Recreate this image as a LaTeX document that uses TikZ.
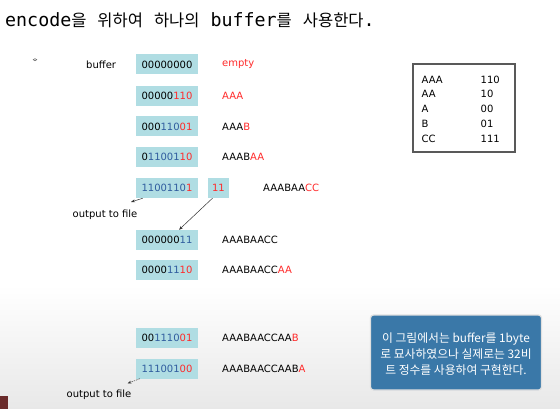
\documentclass[tikz,border=0pt]{standalone}
\usepackage{fontspec}
\setmainfont{DejaVu Sans}
\newfontfamily\krfont{Noto Sans CJK KR}
\newfontfamily\monofont{DejaVu Sans Mono}
\usetikzlibrary{arrows.meta}
\definecolor{boxc}{HTML}{B0DDE3}
\definecolor{bitblue}{HTML}{2F5C9E}
\definecolor{bitred}{HTML}{FF2A2A}
\definecolor{notec}{HTML}{3A78A8}
\definecolor{cornerbrown}{HTML}{6A2B2B}
\newcommand\hg[1]{{\fontsize{16.5}{18}\selectfont\krfont #1}}
\newcommand\bb[1]{\textcolor{bitblue}{#1}}
\newcommand\br[1]{\textcolor{bitred}{#1}}
\begin{document}
\begin{tikzpicture}[x=1pt,y=-1pt,
  bitbox/.style={fill=boxc,minimum width=62pt,minimum height=20pt,inner sep=0pt,font=\fontsize{10}{12}\selectfont},
  lbl/.style={anchor=west,inner sep=0pt,font=\fontsize{10}{12}\selectfont},
  tbl/.style={anchor=base west,inner sep=0pt,font=\fontsize{10}{12}\selectfont},
  arr/.style={draw=black!80,line width=0.5pt,-{Stealth[length=4pt,width=3pt]}}]
\useasboundingbox (0,0) rectangle (560,409);
\fill[white] (0,0) rectangle (560,409);
\shade[top color=white,bottom color=black!9] (0,285) rectangle (560,409);
\fill[cornerbrown] (0,396) rectangle (8,409);
% title
\node[anchor=base west,inner sep=0pt] (title) at (5,27) {\fontsize{18.3}{20}\selectfont\monofont encode\hg{을} \hg{위하여} \hg{하나의} buffer\hg{를} \hg{사용한다}.};
% small mark
\draw[black!60,line width=0.5pt] (35,59.7) ellipse (1.8 and 1.1);
\node[lbl] (buflbl) at (86,65) {buffer};
% boxes
\node[bitbox] (b1) at (167,64.5) {00000000};
\node[bitbox] (b2) at (167,96) {00000\br{110}};
\node[bitbox] (b3) at (167,126.5) {000\bb{110}\br{01}};
\node[bitbox] (b4) at (167,157) {0\bb{11001}\br{10}};
\node[bitbox] (b5) at (167,188) {\bb{1100110}\br{1}};
\node[bitbox,minimum width=21pt] (b5b) at (218.5,188) {\br{11}};
\node[bitbox] (b6) at (167,240) {000000\bb{11}};
\node[bitbox] (b7) at (167,270) {0000\bb{11}\br{10}};
\node[bitbox] (b8) at (167,338) {00\bb{1110}\br{01}};
\node[bitbox] (b9) at (167,368.5) {\bb{111001}\br{00}};
% labels
\node[lbl,text=bitred] (l1) at (222,64.5) {empty};
\node[lbl,text=bitred] (l2) at (222,96) {AAA};
\node[lbl] (l3) at (222,126.5) {AAA\br{B}};
\node[lbl] (l4) at (222,157) {AAAB\br{AA}};
\node[lbl] (l5) at (263,188) {AAABAA\br{CC}};
\node[lbl] (l6) at (222,240) {AAABAACC};
\node[lbl] (l7) at (222,270) {AAABAACC\br{AA}};
\node[lbl] (l8) at (222,338) {AAABAACCAA\br{B}};
\node[lbl] (l9) at (222,368.5) {AAABAACCAAB\br{A}};
% output to file
\node[lbl] (out1) at (72.5,214.5) {output to file};
\node[lbl] (out2) at (66.5,395) {output to file};
\coordinate (o1) at (131,202);
\coordinate (o2) at (127.5,383.5);
\draw[arr] ([xshift=7pt]b5.south west) -- (o1);
\draw[arr] ([xshift=-6pt]b5b.south) -- ([xshift=12pt]b6.north);
\draw[arr,dash pattern=on 1.5pt off 1pt] ([xshift=4pt]b9.south west) -- (o2);
% code table
\node[draw=black!65,line width=1.4pt,fill=white,minimum width=102pt,minimum height=88pt,inner sep=0pt] (codetbl) at (464,108) {};
\node[tbl] (t1a) at (421.5,83.5) {AAA};
\node[tbl] (t1b) at (480.5,83.5) {110};
\node[tbl] (t2a) at (421.5,98) {AA};
\node[tbl] (t2b) at (480.5,98) {10};
\node[tbl] (t3a) at (421.5,113) {A};
\node[tbl] (t3b) at (480.5,113) {00};
\node[tbl] (t4a) at (421.5,128) {B};
\node[tbl] (t4b) at (480.5,128) {01};
\node[tbl] (t5a) at (421.5,143) {CC};
\node[tbl] (t5b) at (480.5,143) {111};
% note
\node[fill=notec,draw=black!12,line width=1.2pt,rounded corners=3pt,minimum width=171pt,minimum height=75pt,inner sep=0pt] (note) at (456,352.5) {};
\node[text=white,align=center,inner sep=0pt,font=\fontsize{11.8}{16}\selectfont\krfont] (notetxt) at (456,354) {이 그림에서는 buffer를 1byte\\로 묘사하였으나 실제로는 32비\\트 정수를 사용하여 구현한다.};
\end{tikzpicture}
\end{document}
